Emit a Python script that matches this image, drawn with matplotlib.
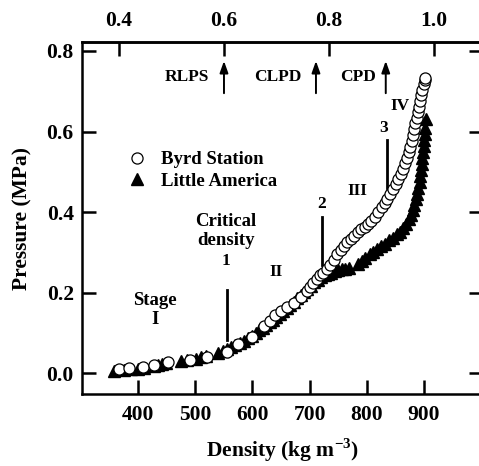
import matplotlib
matplotlib.use("Agg")
import matplotlib.pyplot as plt

plt.rcParams['font.family'] = ['Liberation Serif', 'DejaVu Serif']
plt.rcParams['font.weight'] = 'bold'
plt.rcParams['mathtext.fontset'] = 'custom'
plt.rcParams['mathtext.rm'] = 'Liberation Serif:bold'
plt.rcParams['mathtext.bf'] = 'Liberation Serif:bold'

# ---------------- data ----------------
ICE_DENSITY = 917.0

byrd_density = [367, 385, 408, 428, 452, 490, 520, 556, 575, 600, 620, 630, 640, 650,
                660, 672, 685, 695, 700, 706, 712, 718, 724, 730, 736, 742, 748, 754,
                760, 766, 772, 778, 784, 790, 796, 802, 808, 814, 820, 826, 831, 836,
                841, 846, 851, 855, 859, 863, 867, 870, 873, 876, 879, 881, 883, 885,
                887, 889, 891, 893, 895, 897, 899, 901, 902]
byrd_pressure = [0.012, 0.013, 0.016, 0.020, 0.028, 0.034, 0.040, 0.053, 0.072, 0.090,
                 0.118, 0.130, 0.145, 0.155, 0.165, 0.175, 0.190, 0.205, 0.215, 0.225,
                 0.235, 0.243, 0.250, 0.258, 0.270, 0.282, 0.295, 0.306, 0.315, 0.325,
                 0.333, 0.342, 0.350, 0.357, 0.364, 0.371, 0.378, 0.388, 0.400, 0.412,
                 0.423, 0.432, 0.445, 0.458, 0.470, 0.482, 0.495, 0.508, 0.522, 0.535,
                 0.548, 0.562, 0.577, 0.592, 0.606, 0.620, 0.634, 0.648, 0.662, 0.676,
                 0.690, 0.704, 0.717, 0.728, 0.733]

la_density = [358, 375, 388, 400, 410, 428, 435, 442, 448, 475, 485, 502, 510, 519,
              540, 548, 555, 562, 570, 578, 585, 592, 600, 606, 612, 618, 624, 630,
              636, 642, 648, 654, 660, 666, 672, 678, 684, 690, 696, 702, 708, 714,
              720, 726, 732, 738, 744, 750, 756, 762, 768, 785, 791, 797, 805, 811,
              817, 825, 832, 839, 845, 852, 858, 864, 869, 873, 877, 880, 883, 886,
              888, 890, 892, 893, 895, 896, 897, 898, 899, 900, 901, 902, 904]
la_pressure = [0.005, 0.008, 0.010, 0.012, 0.013, 0.018, 0.020, 0.024, 0.026, 0.030,
               0.033, 0.036, 0.040, 0.043, 0.050, 0.055, 0.060, 0.065, 0.070, 0.076,
               0.081, 0.087, 0.094, 0.100, 0.107, 0.113, 0.120, 0.127, 0.133, 0.140,
               0.148, 0.156, 0.163, 0.170, 0.178, 0.186, 0.194, 0.202, 0.210, 0.218,
               0.226, 0.232, 0.238, 0.243, 0.246, 0.250, 0.253, 0.256, 0.258, 0.260,
               0.262, 0.272, 0.280, 0.287, 0.295, 0.300, 0.308, 0.315, 0.322, 0.330,
               0.337, 0.345, 0.352, 0.360, 0.370, 0.382, 0.393, 0.405, 0.418, 0.432,
               0.446, 0.460, 0.475, 0.490, 0.505, 0.520, 0.535, 0.550, 0.565, 0.580,
               0.595, 0.608, 0.632]

x_ticks = [400, 500, 600, 700, 800, 900]
y_ticks = [0.0, 0.2, 0.4, 0.6, 0.8]
top_ticks = [0.4, 0.6, 0.8, 1.0]

# ---------------- figure ----------------
fig = plt.figure(figsize=(4.79, 4.66), dpi=100)
ax = fig.add_axes([82 / 479, (466 - 394) / 466, (483 - 82) / 479, (394 - 42) / 466])

ax.plot(byrd_density, byrd_pressure, linestyle='none', marker='o', markersize=8,
        markerfacecolor='white', markeredgecolor='black', markeredgewidth=0.9,
        label='Byrd Station', zorder=3)
ax.plot(la_density, la_pressure, linestyle='none', marker='^', markersize=8,
        markerfacecolor='black', markeredgecolor='black', label='Little America', zorder=2)

ax.set_xlim(302, 1003)
ax.set_ylim(-0.051, 0.822)
ax.set_xticks(x_ticks)
ax.set_xticklabels([str(v) for v in x_ticks])
ax.set_yticks(y_ticks)
ax.set_yticklabels([f"{v:.1f}" for v in y_ticks])

for s in ax.spines.values():
    s.set_linewidth(1.8)
ax.tick_params(axis='both', which='major', direction='in', length=10, width=1.8,
               labelsize=15.5, right=True, top=False)
ax.tick_params(axis='x', pad=8)
ax.tick_params(axis='y', pad=6)

sec = ax.secondary_xaxis('top', functions=(lambda d: d / ICE_DENSITY,
                                           lambda r: r * ICE_DENSITY))
sec.set_xticks(top_ticks)
sec.set_xticklabels([f"{v:.1f}" for v in top_ticks])
sec.tick_params(direction='in', length=10, width=1.8, labelsize=15.5, pad=8)
sec.spines['top'].set_linewidth(1.8)

ax.set_xlabel('Density (kg m$^{-3}$)', fontsize=15.5, fontweight='bold', labelpad=8)
ax.set_ylabel('Pressure (MPa)', fontsize=15.5, fontweight='bold', labelpad=10)

# legend
ax.legend(loc='center left', bbox_to_anchor=(0.118, 0.635), frameon=False,
          fontsize=13.5, handlelength=0.8, handletextpad=0.9, labelspacing=0.25,
          borderpad=0, borderaxespad=0)

# stage boundary lines
ax.plot([555, 555], [0.083, 0.206], color='black', lw=2)
ax.plot([722, 722], [0.269, 0.388], color='black', lw=2)
ax.plot([836, 836], [0.460, 0.579], color='black', lw=2)

# arrows for RLPS, CLPD, CPD
for xa in (0.6 * ICE_DENSITY, 711, 833):
    ax.annotate('', xy=(xa, 0.775), xytext=(xa, 0.695),
                arrowprops=dict(arrowstyle='-|>,head_length=0.7,head_width=0.25',
                                color='black', lw=1.4, shrinkA=0, shrinkB=0))

kw = dict(ha='center', va='center', fontweight='bold', color='black')
ax.text(485, 0.735, 'RLPS', fontsize=12.5, **kw)
ax.text(644, 0.735, 'CLPD', fontsize=12.5, **kw)
ax.text(784, 0.735, 'CPD', fontsize=12.5, **kw)
ax.text(858, 0.663, 'IV', fontsize=12.5, **kw)
ax.text(829, 0.608, '3', fontsize=12.5, **kw)
ax.text(784, 0.452, 'III', fontsize=12.5, **kw)
ax.text(721, 0.420, '2', fontsize=12.5, **kw)
ax.text(553, 0.378, 'Critical', fontsize=13.5, **kw)
ax.text(553, 0.330, 'density', fontsize=13.5, **kw)
ax.text(553, 0.278, '1', fontsize=12.5, **kw)
ax.text(642, 0.251, 'II', fontsize=12.5, **kw)
ax.text(429, 0.182, 'Stage', fontsize=13.5, **kw)
ax.text(429, 0.134, 'I', fontsize=13.5, **kw)

fig.savefig('out.png', dpi=100)
